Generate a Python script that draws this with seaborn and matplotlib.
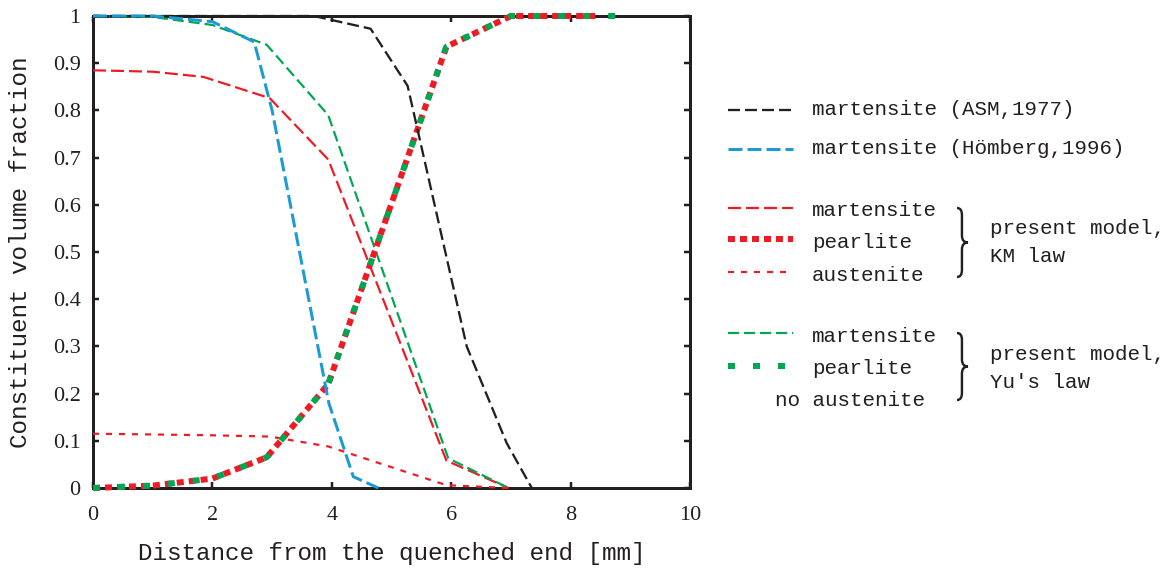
import numpy as np
import matplotlib
matplotlib.use("Agg")
import matplotlib.pyplot as plt
import seaborn as sns
from matplotlib.lines import Line2D
from matplotlib.path import Path
from matplotlib.patches import PathPatch

# ---- data: constituent volume fraction vs distance from quenched end [mm] ----
# martensite, ASM (1977)
x_asm = [0, 3.7, 4.65, 5.27, 6.26, 6.93, 7.35]
y_asm = [1.0, 1.0, 0.973, 0.852, 0.30, 0.095, 0.0]
# martensite, Hömberg (1996)
x_hom = [0, 1, 2.0, 2.7, 3.0, 3.95, 4.36, 4.78]
y_hom = [1.0, 1.0, 0.988, 0.945, 0.80, 0.18, 0.024, 0.0]
# present model, KM law
x_km_mart = [0, 1, 1.85, 2.96, 3.94, 5.92, 6.96]
y_km_mart = [0.885, 0.882, 0.871, 0.826, 0.696, 0.058, 0.0]
x_km_pear = [0, 1, 2.0, 2.91, 3.94, 5.92, 7.0, 8.45]
y_km_pear = [0.0, 0.005, 0.02, 0.065, 0.22, 0.935, 1.0, 1.0]
x_km_aust = [0, 1.85, 2.96, 3.94, 5.92, 6.96]
y_km_aust = [0.115, 0.112, 0.109, 0.088, 0.006, 0.0]
# present model, Yu's law (no austenite)
x_yu_mart = [0, 1, 2.0, 2.91, 3.94, 5.95, 6.96]
y_yu_mart = [1.0, 0.998, 0.981, 0.939, 0.79, 0.063, 0.0]
x_yu_pear = [0, 1, 2.0, 2.91, 3.94, 5.92, 7.0, 8.8]
y_yu_pear = [0.0, 0.005, 0.02, 0.065, 0.22, 0.935, 1.0, 1.0]

x_ticks = [0, 2, 4, 6, 8, 10]
y_ticks = [0, 0.1, 0.2, 0.3, 0.4, 0.5, 0.6, 0.7, 0.8, 0.9, 1.0]
y_tick_labels = ["0", "0.1", "0.2", "0.3", "0.4", "0.5", "0.6", "0.7", "0.8", "0.9", "1"]

BLACK = "#231f20"
BLUE = "#1b9ad6"
RED = "#ed1c24"
GREEN = "#00a651"

sns.set_theme(style="white")
plt.rcParams["font.family"] = ["Liberation Mono", "DejaVu Sans"]
plt.rcParams["lines.scale_dashes"] = False
plt.rcParams["text.color"] = BLACK


def pt(v):
    """pixels -> points at 100 dpi"""
    return v * 0.72


W, H = 1163, 573
fig = plt.figure(figsize=(W / 100, H / 100), dpi=100)
fig.patch.set_facecolor("white")
ax = fig.add_axes([93 / W, 1 - 488 / H, (690 - 93) / W, (488 - 16) / H])

styles = {
    "asm": dict(color=BLACK, linewidth=pt(2.3), linestyle=(0, (pt(12), pt(5)))),
    "hom": dict(color=BLUE, linewidth=pt(3.0), linestyle=(0, (pt(14), pt(5)))),
    "km_mart": dict(color=RED, linewidth=pt(2.2), linestyle=(0, (pt(13), pt(5)))),
    "km_pear": dict(color=RED, linewidth=pt(6), linestyle=(0, (pt(7), pt(5)))),
    "km_aust": dict(color=RED, linewidth=pt(2.2), linestyle=(0, (pt(6), pt(7)))),
    "yu_mart": dict(color=GREEN, linewidth=pt(2.2), linestyle=(0, (pt(11), pt(5)))),
    "yu_pear": dict(color=GREEN, linewidth=pt(6), linestyle=(0, (pt(7), pt(18)))),
}

curves = [
    ("km_aust", x_km_aust, y_km_aust),
    ("km_mart", x_km_mart, y_km_mart),
    ("yu_mart", x_yu_mart, y_yu_mart),
    ("km_pear", x_km_pear, y_km_pear),
    ("yu_pear", x_yu_pear, y_yu_pear),
    ("asm", x_asm, y_asm),
    ("hom", x_hom, y_hom),
]
for key, xs, ys in curves:
    sns.lineplot(x=xs, y=ys, ax=ax, sort=False, estimator=None, errorbar=None,
                 legend=False, clip_on=False, zorder=3, **styles[key])

ax.set_xlim(0, 10)
ax.set_ylim(0, 1)
ax.set_xticks(x_ticks)
ax.set_xticklabels([str(v) for v in x_ticks])
ax.set_yticks(y_ticks)
ax.set_yticklabels(y_tick_labels)
ax.tick_params(axis="both", direction="in", length=pt(6), width=pt(2.5),
               color=BLACK, labelcolor=BLACK, labelsize=16,
               top=True, right=True, bottom=True, left=True)
ax.tick_params(axis="x", pad=13)
ax.tick_params(axis="y", pad=9)
for lab in ax.get_xticklabels() + ax.get_yticklabels():
    lab.set_family(["Liberation Serif", "DejaVu Serif"])
for s in ax.spines.values():
    s.set_linewidth(pt(3))
    s.set_color(BLACK)
    s.set_zorder(2.5)
ax.set_facecolor("white")
ax.grid(False)

ax.set_xlabel("Distance from the quenched end [mm]", fontsize=17.5, color=BLACK)
ax.set_ylabel("Constituent volume fraction", fontsize=17.5, color=BLACK)
ax.xaxis.set_label_coords(0.5, -(542 - 488) / 472)
ax.yaxis.set_label_coords(-(93 - 32) / 597, 0.5)


# ---- legend, laid out in figure pixels ----
def fx(x):
    return x / W


def fy(y):
    return 1 - y / H


def key_line(x0, x1, y, style):
    fig.add_artist(Line2D([fx(x0), fx(x1)], [fy(y), fy(y)],
                          transform=fig.transFigure, **style))


def key_text(x, y, s):
    fig.text(fx(x), fy(y), s, ha="left", va="center", fontsize=15, color=BLACK)


def brace(x0, x1, ytop, ybot):
    xm = x0 + (x1 - x0) * 0.45
    mid = (ytop + ybot) / 2
    r = 7
    pts = [(x0, ytop), (xm, ytop), (xm, ytop + r),
           (xm, mid - r), (xm, mid), (x1, mid),
           (xm, mid), (xm, mid + r),
           (xm, ybot - r), (xm, ybot), (x0, ybot)]
    codes = [Path.MOVETO, Path.CURVE3, Path.CURVE3,
             Path.LINETO, Path.CURVE3, Path.CURVE3,
             Path.CURVE3, Path.CURVE3,
             Path.LINETO, Path.CURVE3, Path.CURVE3]
    path = Path([(fx(a), fy(b)) for a, b in pts], codes)
    fig.add_artist(PathPatch(path, transform=fig.transFigure, fill=False,
                             edgecolor=BLACK, linewidth=pt(2.4)))


KX0, KX1, TX = 728, 793, 812
key_line(KX0, KX1, 110, styles["asm"])
key_text(TX, 110, "martensite (ASM,1977)")
key_line(KX0, KX1, 149, styles["hom"])
key_text(TX, 149, "martensite (Hömberg,1996)")

key_line(KX0, KX1, 208, styles["km_mart"])
key_text(TX, 211, "martensite")
key_line(KX0, KX1, 239, styles["km_pear"])
key_text(TX, 242, "pearlite")
key_line(KX0, KX1, 272, styles["km_aust"])
key_text(TX, 275, "austenite")
brace(957, 968, 208, 277)
key_text(990, 229, "present model,")
key_text(990, 257, "KM law")

key_line(KX0, KX1, 333, styles["yu_mart"])
key_text(TX, 336, "martensite")
key_line(KX0, KX1, 366, styles["yu_pear"])
key_text(TX, 368, "pearlite")
key_text(775, 400, "no austenite")
brace(957, 968, 333, 400)
key_text(990, 355, "present model,")
key_text(990, 383, "Yu's law")

fig.savefig("out.png", dpi=100, facecolor="white")
